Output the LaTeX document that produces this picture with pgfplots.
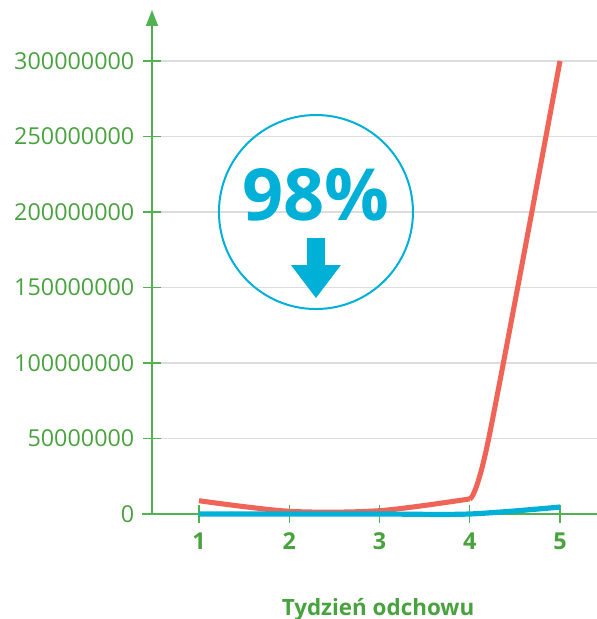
\documentclass[border=0pt]{standalone}
\usepackage{fontspec}
\setmainfont{Open Sans}
\usepackage{pgfplots}
\pgfplotsset{compat=1.18}
\usetikzlibrary{arrows.meta}
\definecolor{agreen}{RGB}{80,178,80}
\definecolor{tgreen}{RGB}{72,162,62}
\definecolor{cred}{RGB}{240,100,88}
\definecolor{cblue}{RGB}{0,176,214}
\definecolor{cgrid}{RGB}{220,220,220}
\begin{document}
\begin{tikzpicture}
\useasboundingbox (-114pt,-78.75pt) rectangle (333.75pt,385.5pt);
\begin{axis}[
  at={(0,0)}, anchor=south west,
  scale only axis, width=333.75pt, height=378pt,
  xmin=0.4792, xmax=5.41, ymin=0, ymax=333.8e6,
  clip=false,
  axis line style={draw=none},
  xtick={1,2,3,4,5}, xticklabels={1,2,3,4,5},
  ytick={0,50000000,100000000,150000000,200000000,250000000,300000000},
  yticklabels={0,50000000,100000000,150000000,200000000,250000000,300000000},
  scaled y ticks=false,
  xtick pos=bottom, ytick pos=left,
  tick align=center, major tick length=13.5pt,
  tick style={agreen, line width=1.1pt},
  ymajorgrids, grid style={cgrid, line width=1.1pt},
  /pgf/number format/assume math mode=true,
  yticklabel style={font=\fontsize{17.5}{19}\selectfont, text=tgreen, xshift=-3pt},
  xticklabel style={font=\fontsize{17.5}{19}\selectfont\bfseries, text=tgreen, yshift=-4pt},
  xlabel={Tydzień odchowu},
  xlabel style={font=\fontsize{16.8}{18}\selectfont\bfseries, text=tgreen,
    at={(axis description cs:0.508,0)}, anchor=base, yshift=-75.75pt},
]
% axis lines
\draw[agreen, line width=1.1pt] (axis cs:0.3684,0) -- (axis cs:5.41,0);
\draw[agreen, line width=1.1pt, -{Triangle[width=9pt,length=12pt]}] (axis cs:0.4792,0) -- (axis cs:0.4792,333.8e6);
% data
\addplot[cred, line width=3.8pt, smooth, no markers] coordinates {(1,8.8e6) (2,1.8e6) (3,2.2e6) (4,10e6)};
\addplot[cred, line width=3.8pt, smooth, no markers] coordinates {(4,10e6) (4.21,50e6) (5,300e6)};
\addplot[cblue, line width=3.9pt, smooth, no markers] coordinates {(1,0) (2,0) (3,0) (4,0) (5,4.6e6)};
% annotation
\draw[cblue, line width=1.5pt] (axis cs:2.296,200e6) circle[radius=72.75pt];
\node[cblue, anchor=base, font=\fontsize{54}{60}\selectfont\bfseries, inner sep=0pt] at (axis cs:2.296,194.7e6) {98\%};
\fill[cblue, shift={(axis cs:2.296,200e6)}] (-6.75pt,-19.5pt) rectangle (6.75pt,-42pt);
\fill[cblue, shift={(axis cs:2.296,200e6)}] (-18.75pt,-39.75pt) -- (18.75pt,-39.75pt) -- (0pt,-64.5pt) -- cycle;
\end{axis}
\end{tikzpicture}
\end{document}
